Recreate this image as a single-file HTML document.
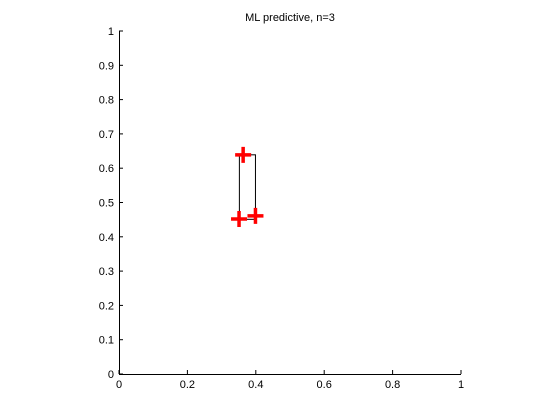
<!DOCTYPE html>
<html><head><meta charset="utf-8"><style>body{margin:0;background:#fff}svg{display:block;font-family:"Liberation Sans",sans-serif}</style></head>
<body>
<svg id="chart" width="560" height="420" xmlns="http://www.w3.org/2000/svg">
<rect width="560" height="420" fill="#fff"/>
<text x="290" y="21" font-size="11" text-anchor="middle">ML predictive, n=3</text>
<g id="axes"></g>
<g id="marks"></g>
</svg>
<script>
const xTicks=[0,0.2,0.4,0.6,0.8,1];
const xTickLabels=["0","0.2","0.4","0.6","0.8","1"];
const yTicks=[0,0.1,0.2,0.3,0.4,0.5,0.6,0.7,0.8,0.9,1];
const yTickLabels=["0","0.1","0.2","0.3","0.4","0.5","0.6","0.7","0.8","0.9","1"];
const pointsX=[0.363,0.351,0.399];
const pointsY=[0.639,0.452,0.461];
const boxX=[0.352,0.399];
const boxY=[0.451,0.639];
const L=119,R=461,T=31,B=374;
const sx=v=>L+v*(R-L), sy=v=>B-v*(B-T);
const NS="http://www.w3.org/2000/svg";
function mk(t,a,p){const e=document.createElementNS(NS,t);for(const k in a)e.setAttribute(k,a[k]);p.appendChild(e);return e;}
const ax=document.getElementById('axes'), mg=document.getElementById('marks');
let xa=mk('line',{x1:L,x2:R,y1:B+0.5,y2:B+0.5,stroke:'#000'},ax);


let ya=mk('line',{x1:L+0.5,x2:L+0.5,y1:T,y2:B,stroke:'#000'},ax);


xTicks.forEach((v,i)=>{const x=sx(v);
let t=mk('line',{x1:x,x2:x,y1:B,y2:B-4,stroke:'#000'},ax);


let l=mk('text',{x:x,y:B+14,'font-size':11,'text-anchor':'middle'},ax);l.textContent=xTickLabels[i];

});
yTicks.forEach((v,i)=>{const y=sy(v);
let t=mk('line',{x1:L,x2:L+4,y1:y,y2:y,stroke:'#000'},ax);


let l=mk('text',{x:L-5,y:y+4,'font-size':11,'text-anchor':'end'},ax);l.textContent=yTickLabels[i];

});
let b=mk('rect',{x:sx(boxX[0]),y:sy(boxY[1]),width:sx(boxX[1])-sx(boxX[0]),height:sy(boxY[0])-sy(boxY[1]),fill:'none',stroke:'#000','stroke-width':1},mg);


pointsX.forEach((v,i)=>{const x=sx(v),y=sy(pointsY[i]);
let p=mk('path',{d:`M${x-8} ${y}H${x+8}M${x} ${y-8}V${y+8}`,stroke:'#f00','stroke-width':3.5,fill:'none'},mg);

});
</script>
</body></html>
